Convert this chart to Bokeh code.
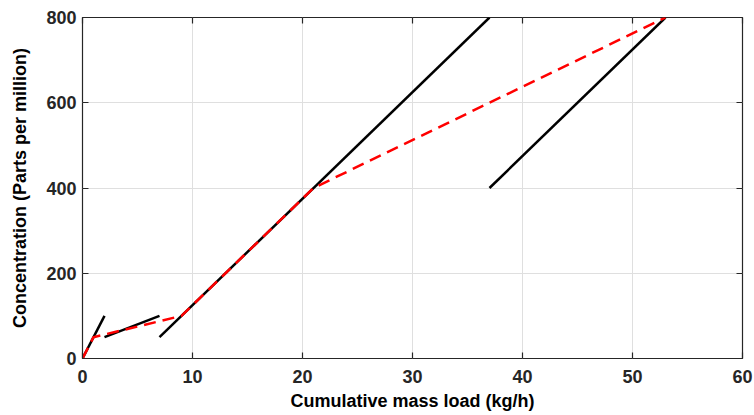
from bokeh.plotting import figure
from bokeh.models import LinearAxis, Range1d, FixedTicker
from bokeh.embed import file_html
from bokeh.resources import INLINE

# Individual stream lines (black)
stream1_x = [0, 2]
stream1_y = [0, 100]
stream2_x = [2, 7]
stream2_y = [50, 100]
stream3_x = [7, 37]
stream3_y = [50, 800]
stream4_x = [37, 53]
stream4_y = [400, 800]

# Composite curve (red dashed)
comp_x = [0, 1, 9, 21, 53]
comp_y = [0, 50, 100, 400, 800]

x_ticks = [0, 10, 20, 30, 40, 50, 60]
y_ticks = [0, 200, 400, 600, 800]

FONT = "Liberation Sans"
TXT = "#262626"

p = figure(width=754, height=415, output_backend="svg", toolbar_location=None,
           x_range=Range1d(0, 60), y_range=Range1d(0, 800),
           min_border_left=82, min_border_right=12, min_border_top=17, min_border_bottom=57)

p.background_fill_color = "white"
p.border_fill_color = "white"
p.outline_line_color = TXT
p.outline_line_width = 1.2

for ax in (p.xaxis[0], p.yaxis[0]):
    ax.major_label_text_font = FONT
    ax.major_label_text_font_style = "bold"
    ax.major_label_text_font_size = "18px"
    ax.major_label_text_color = TXT
    ax.axis_label_text_font = FONT
    ax.axis_label_text_font_style = "bold"
    ax.axis_label_text_font_size = "18px"
    ax.axis_label_text_color = "black"
    ax.axis_line_color = None
    ax.major_tick_in = 6
    ax.major_tick_out = 0
    ax.major_tick_line_color = TXT
    ax.major_tick_line_width = 1.2
    ax.minor_tick_line_color = None

p.xaxis[0].ticker = FixedTicker(ticks=x_ticks)
p.yaxis[0].ticker = FixedTicker(ticks=y_ticks)
p.xaxis[0].axis_label = "Cumulative mass load (kg/h)"
p.yaxis[0].axis_label = "Concentration (Parts per million)"
p.xaxis[0].major_label_standoff = 11
p.yaxis[0].major_label_standoff = 6
p.xaxis[0].axis_label_standoff = 5
p.yaxis[0].axis_label_standoff = 13

for loc, tk in (("above", x_ticks), ("right", y_ticks)):
    ax = LinearAxis(ticker=FixedTicker(ticks=tk))
    ax.major_label_overrides = {t: "" for t in tk}
    ax.major_label_standoff = 0
    ax.axis_line_color = None
    ax.major_tick_in = 6
    ax.major_tick_out = 0
    ax.major_tick_line_color = TXT
    ax.major_tick_line_width = 1.2
    ax.minor_tick_line_color = None
    p.add_layout(ax, loc)

p.xgrid.ticker = FixedTicker(ticks=x_ticks)
p.ygrid.ticker = FixedTicker(ticks=y_ticks)
p.xgrid.grid_line_color = "#dfdfdf"
p.ygrid.grid_line_color = "#dfdfdf"
p.xgrid.grid_line_width = 1
p.ygrid.grid_line_width = 1

for xs, ys in ((stream1_x, stream1_y), (stream2_x, stream2_y),
               (stream3_x, stream3_y), (stream4_x, stream4_y)):
    p.line(xs, ys, line_color="black", line_width=2.5)

p.line(comp_x, comp_y, line_color="red", line_width=2.5, line_dash="12 7")

open("out.html", "w").write(file_html(p, INLINE))
